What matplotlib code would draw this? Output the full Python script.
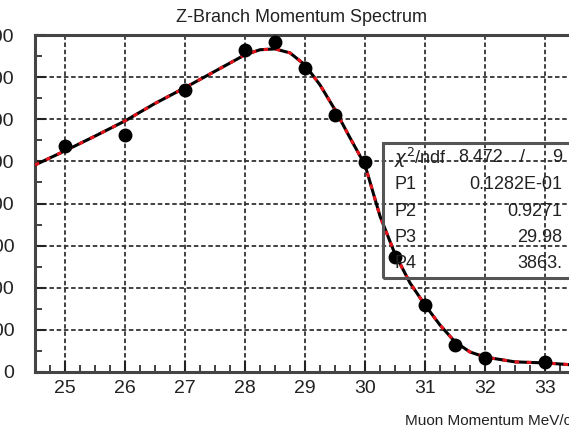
import numpy as np
import matplotlib
matplotlib.use("Agg")
import matplotlib.pyplot as plt
from matplotlib.ticker import MultipleLocator

plt.rcParams['font.family'] = ['Liberation Sans', 'DejaVu Sans']

# measured points (muon momentum MeV/c, counts)
mom = [25, 26, 27, 28, 28.5, 29, 29.5, 30, 30.5, 31, 31.5, 32, 33]
counts = [1074, 1126, 1340, 1530, 1568, 1444, 1221, 998, 545, 318, 128, 67, 48]

# fitted curve
fit_x = [24.5, 25, 25.5, 26, 26.5, 27, 27.5, 28, 28.25, 28.5, 28.75, 29, 29.25,
         29.5, 29.75, 30, 30.25, 30.5, 30.75, 31, 31.25, 31.5, 31.75, 32, 32.5, 33, 33.5]
fit_y = [983, 1050, 1120, 1192, 1275, 1350, 1428, 1506, 1530, 1534, 1515, 1458, 1363,
         1245, 1112, 983, 740, 560, 423, 318, 223, 143, 95, 71, 48, 43, 33]

stat_names = ["P1", "P2", "P3", "P4"]
stat_vals = ["0.1282E-01", "0.9271", "29.98", "3863."]
chi2 = "8.472"
ndf = "9"

W, H = 569, 432
fig = plt.figure(figsize=(W / 100, H / 100), dpi=100)
ax = fig.add_axes([35 / W, 60 / H, 540 / W, 337 / H])

ax.set_xlim(24.5, 33.5)
ax.set_ylim(0, 1600)
ax.xaxis.set_major_locator(MultipleLocator(1))
ax.xaxis.set_minor_locator(MultipleLocator(0.25))
ax.yaxis.set_major_locator(MultipleLocator(200))
ax.yaxis.set_minor_locator(MultipleLocator(100))

ax.grid(True, which='major', color='#333333', linestyle=(0, (2.5, 1.5)), linewidth=1.3)
ax.tick_params(which='major', direction='in', length=8, width=1.5, labelsize=14,
               top=False, right=False, colors='#222222', pad=6)
ax.tick_params(axis='y', which='major', pad=15)
ax.tick_params(which='minor', direction='in', length=5, width=1.3, top=False, right=False,
               colors='#333333')
for s in ax.spines.values():
    s.set_linewidth(2.2)
    s.set_color('#444444')

ax.plot(fit_x, fit_y, color='black', linewidth=2.2, zorder=3)
ax.plot(fit_x, fit_y, color='#e8141c', linewidth=2.2, linestyle=(0, (1.5, 2.5)), zorder=4)
ax.plot(mom, counts, 'o', color='black', markersize=9, zorder=5)

# statistics box (ROOT style, transparent)
def px(x, y):
    return x / W, 1 - y / H

box = plt.Rectangle(px(383, 278), (600 - 383) / W, (278 - 143) / H, transform=fig.transFigure,
                    fill=False, edgecolor='#555555', linewidth=2.2, zorder=6)
fig.patches.append(box)
fs = 13
fig.text(*px(394, 158), r"$\chi^2$/ndf", fontsize=fs, va='center', ha='left', color='#222222')
fig.text(*px(503, 158), chi2, fontsize=fs, va='center', ha='right', color='#222222')
fig.text(*px(523, 158), "/", fontsize=fs, va='center', ha='center', color='#222222')
fig.text(*px(562, 158), ndf, fontsize=fs, va='center', ha='right', color='#222222')
for i, (n, v) in enumerate(zip(stat_names, stat_vals)):
    y = 185 + i * 26
    fig.text(*px(394, y), n, fontsize=fs, va='center', ha='left', color='#222222')
    fig.text(*px(562, y), v, fontsize=fs, va='center', ha='right', color='#222222')

fig.text(*px(302, 18), "Z-Branch Momentum Spectrum", fontsize=13, ha='center', va='center',
         color='#222222')
fig.text(*px(405, 421), "Muon Momentum MeV/c", fontsize=11, ha='left', va='center',
         color='#222222')

fig.savefig("out.png", dpi=100)
